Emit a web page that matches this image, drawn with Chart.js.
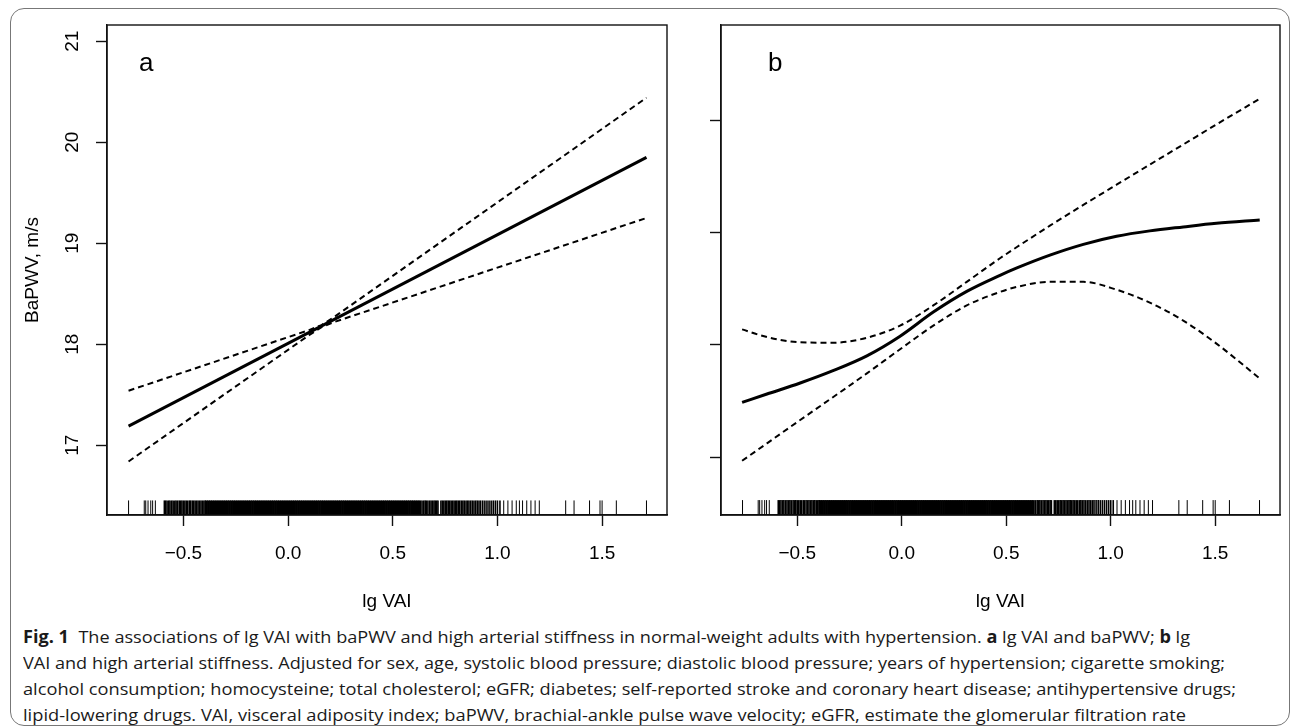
<!DOCTYPE html>
<html>
<head>
<meta charset="utf-8">
<script src="https://cdn.jsdelivr.net/npm/chart.js@4.4.1/dist/chart.umd.min.js"></script>
<style>
  html, body { margin: 0; padding: 0; background: #fff; }
  body { width: 1295px; height: 728px; position: relative; overflow: hidden; }
  #frame { position: absolute; left: 10px; top: 8px; width: 1278px; height: 716px;
           border: 1.5px solid #777; border-radius: 14px; }
  #chartA { position: absolute; left: 0; top: 0; }
  #chartB { position: absolute; left: 690px; top: 0; }
  #caption { position: absolute; left: 23px; top: 624px; font-family: "Open Sans", "Noto Sans", sans-serif;
             font-size: 17px; line-height: 26px; color: #1a1a1a; }
  #caption .ln { display: block; white-space: nowrap; transform-origin: 0 50%; width: max-content; }
</style>
</head>
<body>
<div id="frame"></div>
<canvas id="chartA" width="690" height="620"></canvas>
<canvas id="chartB" width="605" height="620"></canvas>
<div id="caption">
  <span class="ln" data-w="1167"><b>Fig. 1</b>&nbsp; The associations of lg VAI with baPWV and high arterial stiffness in normal-weight adults with hypertension. <b>a</b> lg VAI and baPWV; <b>b</b> lg</span>
  <span class="ln" data-w="1202">VAI and high arterial stiffness. Adjusted for sex, age, systolic blood pressure; diastolic blood pressure; years of hypertension; cigarette smoking;</span>
  <span class="ln" data-w="1213">alcohol consumption; homocysteine; total cholesterol; eGFR; diabetes; self-reported stroke and coronary heart disease; antihypertensive drugs;</span>
  <span class="ln" data-w="1163">lipid-lowering drugs. VAI, visceral adiposity index; baPWV, brachial-ankle pulse wave velocity; eGFR, estimate the glomerular filtration rate</span>
</div>
<script>
// axis ticks
const xTicks = [-0.5, 0, 0.5, 1, 1.5];
const xTickLabels = ['\u22120.5', '0.0', '0.5', '1.0', '1.5'];
const yTicksA = [17, 18, 19, 20, 21];
const yTicksB = [0, 1, 2, 3];

// panel a: linear fit and 95% CI
const xFitA = [-0.762, 1.712];
const fitA = [17.19, 19.85];
const xBandA = [-0.762, 0.10, 0.16, 0.22, 1.712];
const upperA = [17.54, 18.14, 18.19, 18.27, 20.44];
const lowerA = [16.84, 18.09, 18.17, 18.22, 19.25];

// panel b: smooth fit and 95% CI
const xCurveB = [-0.764, -0.645, -0.486, -0.326, -0.167, -0.008, 0.151, 0.311, 0.47, 0.551, 0.709, 0.869, 1.028, 1.187, 1.347, 1.506, 1.713];
const fitB   = [0.487, 0.561, 0.659, 0.771, 0.901, 1.076, 1.291, 1.475, 1.618, 1.684, 1.798, 1.894, 1.966, 2.014, 2.049, 2.081, 2.11];
const upperB = [1.137, 1.068, 1.022, 1.018, 1.062, 1.17, 1.35, 1.56, 1.77, 1.87, 2.06, 2.245, 2.425, 2.604, 2.783, 2.962, 3.19];
const lowerB = [-0.033, 0.122, 0.33, 0.537, 0.745, 0.96, 1.17, 1.35, 1.47, 1.515, 1.56, 1.56, 1.49, 1.375, 1.215, 1.01, 0.70];

// rug of observed lg VAI values
const rugSparse = [-0.762, -0.687, -0.68, -0.669, -0.656, -0.647, -0.634,
  1.03, 1.05, 1.07, 1.09, 1.105, 1.12, 1.14, 1.16, 1.18, 1.2,
  1.326, 1.366, 1.44, 1.49, 1.5, 1.568, 1.712];
const rugCluster = [-0.591, -0.585, -0.578, -0.57, -0.564, -0.556, -0.549, -0.541, -0.535, -0.528, -0.52,
  -0.513, -0.507, -0.5, -0.493, -0.486, -0.479, -0.471, -0.466, -0.458, -0.451, -0.444, -0.437, -0.43,
  -0.423, -0.416, -0.409, -0.402, -0.396,
  0.64, 0.648, 0.655, 0.661, 0.668, 0.676, 0.683, 0.69, 0.697, 0.703, 0.71, 0.716, 0.73, 0.737, 0.744,
  0.751, 0.758, 0.765, 0.772, 0.779, 0.786, 0.793, 0.8, 0.806, 0.813, 0.82, 0.828, 0.835, 0.842, 0.85,
  0.857, 0.864, 0.872, 0.88, 0.888, 0.896, 0.904, 0.912, 0.92, 0.93, 0.94, 0.95, 0.96, 0.97, 0.98, 0.99,
  1.0, 1.012];
const rugDense = [-0.39, -0.38, -0.37, -0.36, -0.35, -0.34, -0.33, -0.32, -0.31, -0.30, -0.29, -0.28, -0.27,
  -0.26, -0.25, -0.24, -0.23, -0.22, -0.21, -0.20, -0.19, -0.18, -0.17, -0.16, -0.15, -0.14, -0.13, -0.12,
  -0.11, -0.10, -0.09, -0.08, -0.07, -0.06, -0.05, -0.04, -0.03, -0.02, -0.01, 0.00, 0.01, 0.02, 0.03,
  0.04, 0.05, 0.06, 0.07, 0.08, 0.09, 0.10, 0.11, 0.12, 0.13, 0.14, 0.15, 0.16, 0.17, 0.18, 0.19, 0.20,
  0.21, 0.22, 0.23, 0.24, 0.25, 0.26, 0.27, 0.28, 0.29, 0.30, 0.31, 0.32, 0.33, 0.34, 0.35, 0.36, 0.37,
  0.38, 0.39, 0.40, 0.41, 0.42, 0.43, 0.44, 0.45, 0.46, 0.47, 0.48, 0.49, 0.50, 0.51, 0.52, 0.53, 0.54,
  0.55, 0.56, 0.57, 0.58, 0.59, 0.60, 0.61, 0.62, 0.63];
const rugLevelA = 16.38;
const rugLevelB = -0.45;

const FONT = '"Liberation Sans", Arial, sans-serif';

// outline box + panel letter
const panelTag = {
  id: 'panelTag',
  afterDraw(chart, args, opts) {
    const { ctx, chartArea: c } = chart;
    ctx.save();
    ctx.strokeStyle = '#111';
    ctx.lineWidth = 1.4;
    ctx.strokeRect(c.left, c.top, c.right - c.left, c.bottom - c.top);
    ctx.fillStyle = '#000';
    ctx.font = '26px ' + FONT;
    ctx.textBaseline = 'alphabetic';
    ctx.fillText(opts.text, c.left + opts.dx, c.top + opts.dy);
    ctx.restore();
  }
};

const pts = (xs, ys) => xs.map((x, i) => ({ x: x, y: ys[i] }));
const rugPts = (xs, level) => xs.map(x => ({ x: x, y: level }));

function curve(data, dashed, smooth) {
  return {
    data: data,
    showLine: true,
    borderColor: '#000',
    borderWidth: dashed ? 2 : 3,
    borderDash: dashed ? [6, 4] : [],
    pointRadius: 0,
    cubicInterpolationMode: smooth ? 'monotone' : 'default',
    tension: 0
  };
}
function rug(data, width) {
  return {
    data: data,
    showLine: false,
    pointStyle: 'line',
    pointRotation: 90,
    pointRadius: 7.5,
    pointBorderColor: '#000',
    pointBackgroundColor: '#000',
    pointBorderWidth: width
  };
}

function makeOptions(cfg) {
  return {
    responsive: false,
    animation: false,
    events: [],
    layout: { padding: { top: 25, right: cfg.padRight, left: 0, bottom: 0 } },
    plugins: { legend: { display: false }, tooltip: { enabled: false }, panelTag: cfg.tag },
    scales: {
      x: {
        type: 'linear',
        min: -0.865, max: 1.81,
        afterFit: s => { s.height = 105; },
        afterBuildTicks: s => { s.ticks = xTicks.map(v => ({ value: v })); },
        grid: { drawOnChartArea: false, drawTicks: true, tickLength: 11, tickWidth: 1.4, tickColor: '#111' },
        border: { display: true, color: '#111', width: 1.4 },
        ticks: {
          color: '#000', padding: 16, maxRotation: 0, autoSkip: false,
          font: { family: FONT, size: 19 },
          callback: (v, i) => xTickLabels[i]
        },
        title: { display: true, text: 'lg VAI', color: '#000', font: { family: FONT, size: 19 },
                 padding: { top: 0, bottom: 6.6 } }
      },
      y: {
        type: 'linear',
        min: cfg.yMin, max: cfg.yMax,
        afterFit: s => { s.width = cfg.yWidth; },
        afterBuildTicks: s => { s.ticks = cfg.yTicks.map(v => ({ value: v })); },
        grid: { drawOnChartArea: false, drawTicks: true, tickLength: 11, tickWidth: 1.4, tickColor: '#111' },
        border: { display: true, color: '#111', width: 1.4 },
        ticks: {
          color: '#000', padding: 12.4, minRotation: 90, maxRotation: 90, crossAlign: 'center',
          autoSkip: false, font: { family: FONT, size: 19 },
          callback: cfg.yLabel
        },
        title: { display: cfg.yTitle !== '', text: cfg.yTitle, color: '#000', font: { family: FONT, size: 19 },
                 padding: { top: 21.6, bottom: 0 } }
      }
    }
  };
}

new Chart(document.getElementById('chartA'), {
  type: 'scatter',
  data: {
    datasets: [
      curve(pts(xBandA, upperA), true, false),
      curve(pts(xBandA, lowerA), true, false),
      curve(pts(xFitA, fitA), false, false),
      rug(rugPts(rugSparse, rugLevelA), 1),
      rug(rugPts(rugCluster, rugLevelA), 1.6),
      rug(rugPts(rugDense, rugLevelA), 2.8)
    ]
  },
  options: makeOptions({
    padRight: 23, yMin: 16.31, yMax: 21.16, yWidth: 107, yTicks: yTicksA,
    yLabel: v => String(v), yTitle: 'BaPWV, m/s',
    tag: { text: 'a', dx: 32, dy: 46 }
  }),
  plugins: [panelTag]
});

new Chart(document.getElementById('chartB'), {
  type: 'scatter',
  data: {
    datasets: [
      curve(pts(xCurveB, upperB), true, true),
      curve(pts(xCurveB, lowerB), true, true),
      curve(pts(xCurveB, fitB), false, true),
      rug(rugPts(rugSparse, rugLevelB), 1),
      rug(rugPts(rugCluster, rugLevelB), 1.6),
      rug(rugPts(rugDense, rugLevelB), 2.8)
    ]
  },
  options: makeOptions({
    padRight: 15, yMin: -0.516, yMax: 3.847, yWidth: 31, yTicks: yTicksB,
    yLabel: () => '', yTitle: '',
    tag: { text: 'b', dx: 47, dy: 46 }
  }),
  plugins: [panelTag]
});

// squeeze each caption line to the measured width of the original
function fitCaption() {
  document.querySelectorAll('#caption .ln').forEach(el => {
    el.style.transform = 'none';
    const w = el.getBoundingClientRect().width;
    el.style.transform = 'scaleX(' + (Number(el.dataset.w) / w) + ')';
  });
}
fitCaption();
if (document.fonts) document.fonts.ready.then(fitCaption);
</script>
</body>
</html>
